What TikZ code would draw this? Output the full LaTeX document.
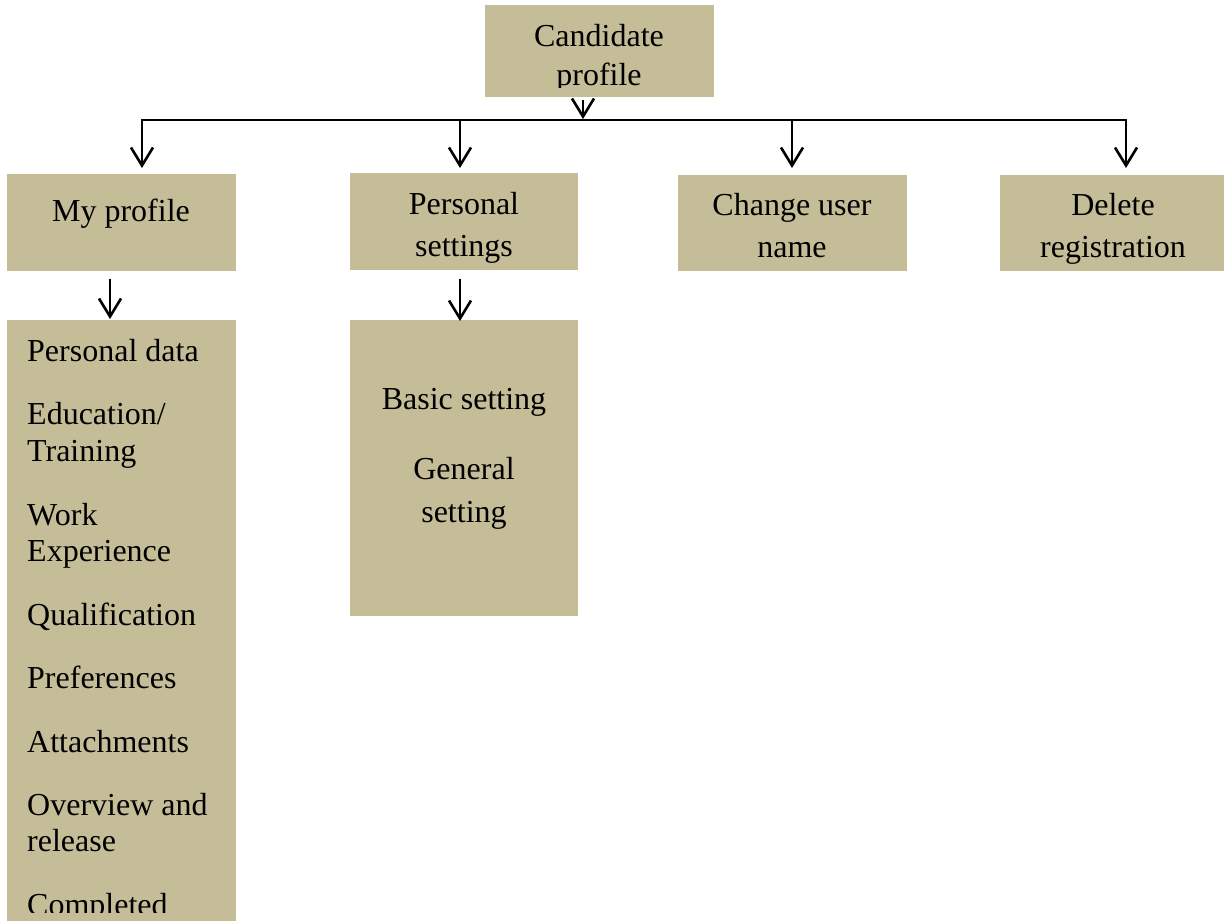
\documentclass[tikz,border=0pt]{standalone}
\usepackage{fontspec}
\setmainfont{Liberation Serif}
\usetikzlibrary{arrows.meta}
\definecolor{boxfill}{RGB}{196,189,151}
\begin{document}
\begin{tikzpicture}[x=1pt,y=-1pt,
  box/.style={fill=boxfill, inner sep=0pt, outer sep=0pt},
  lbl/.style={anchor=base, inner sep=0pt, font=\fontsize{32}{37}\selectfont},
  lbll/.style={anchor=base west, inner sep=0pt, font=\fontsize{32}{37}\selectfont},
  conn/.style={line width=2pt, -{Straight Barb[length=18pt,width=22pt,line width=2.6pt]}},
  plainline/.style={line width=2pt}]
\useasboundingbox (0,0) rectangle (1225,921);

% boxes
\node[box, minimum width=229pt, minimum height=92pt] (cand) at (599.5,51) {};
\node[box, minimum width=229pt, minimum height=97pt] (myprof) at (121.5,222.5) {};
\node[box, minimum width=228pt, minimum height=97pt] (perset) at (464,221.5) {};
\node[box, minimum width=229pt, minimum height=96pt] (chname) at (792.5,223) {};
\node[box, minimum width=224pt, minimum height=96pt] (delreg) at (1112,223) {};
\node[box, minimum width=229pt, minimum height=601pt] (list) at (121.5,620.5) {};
\node[box, minimum width=228pt, minimum height=296pt] (sett) at (464,468) {};

% texts
\node[lbl] (t1) at (599,46) {Candidate};
\begin{scope}
\clip (485,5) rectangle (714,87);
\node[lbl] (t2) at (599,85) {profile};
\end{scope}
\node[lbl] (t3) at (121,221) {My profile};
\node[lbl] (t4) at (464,214) {Personal};
\node[lbl] (t5) at (464,256) {settings};
\node[lbl] (t6) at (792,215) {Change user};
\node[lbl] (t7) at (792,257) {name};
\node[lbl] (t8) at (1113,215) {Delete};
\node[lbl] (t9) at (1113,257) {registration};
\node[lbl] (t10) at (464,409) {Basic setting};
\node[lbl] (t11) at (464,479) {General};
\node[lbl] (t12) at (464,522) {setting};

\node[lbll] (l1) at (27,361) {Personal data};
\node[lbll] (l2) at (27,424) {Education/};
\node[lbll] (l3) at (27,461) {Training};
\node[lbll] (l4) at (27,525) {Work};
\node[lbll] (l5) at (27,561) {Experience};
\node[lbll] (l6) at (27,625) {Qualification};
\node[lbll] (l7) at (27,688) {Preferences};
\node[lbll] (l8) at (27,752) {Attachments};
\node[lbll] (l9) at (27,815) {Overview and};
\node[lbll] (l10) at (27,851) {release};
\begin{scope}
\clip (7,320) rectangle (236,912);
\node[lbll] (l11) at (27,915) {Completed};
\end{scope}

% connectors
\coordinate (hub) at (583,120);
\coordinate (hl) at (142,120);
\coordinate (h2) at (460,120);
\coordinate (h3) at (792,120);
\coordinate (hr) at (1126,120);
\coordinate (m1) at (110,300);
\coordinate (m2) at (460,300);

\draw[conn, shorten <=3pt, shorten >=1pt] (cand.south -| hub) -- (hub);
\draw[plainline] ([xshift=-1pt]hl) -- ([xshift=1pt]hr);
\draw[conn, shorten >=6pt] (hl) -- (hl |- myprof.north);
\draw[conn, shorten >=5pt] (h2) -- (h2 |- perset.north);
\draw[conn, shorten >=7pt] (h3) -- (h3 |- chname.north);
\draw[conn, shorten >=7pt] (hr) -- (hr |- delreg.north);
\draw[conn, shorten <=8pt, shorten >=1pt] (myprof.south -| m1) -- (list.north -| m1);
\draw[conn, shorten <=9pt, shorten >=-1pt] (perset.south -| m2) -- (sett.north -| m2);
\end{tikzpicture}
\end{document}
